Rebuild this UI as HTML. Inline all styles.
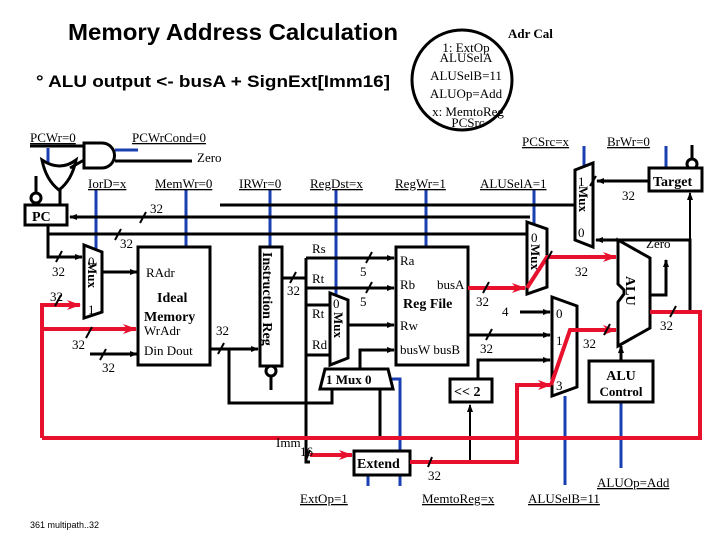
<!DOCTYPE html>
<html><head><style>
body{margin:0;background:#fff}
svg{display:block}
.t{font-family:"Liberation Serif",serif;font-size:13px}
</style></head><body>
<svg width="720" height="540" viewBox="0 0 720 540" xmlns="http://www.w3.org/2000/svg">
<defs>
<marker id="a" markerWidth="8" markerHeight="8" refX="7" refY="4" orient="auto" markerUnits="userSpaceOnUse"><path d="M0,1 L8,4 L0,7z" fill="#000"/></marker>
<marker id="r" markerWidth="14" markerHeight="12" refX="13" refY="6" orient="auto" markerUnits="userSpaceOnUse"><path d="M0,1 L14,6 L0,11 L4,6z" fill="#e8112d"/></marker>
</defs>
<g font-family="Liberation Sans,sans-serif" font-weight="bold">
<text x="68" y="40" font-size="23" textLength="330" lengthAdjust="spacingAndGlyphs">Memory Address Calculation</text>
<text x="36" y="87" font-size="17" textLength="354" lengthAdjust="spacingAndGlyphs">°  ALU output  &lt;-  busA + SignExt[Imm16]</text>
</g>
<text x="30" y="528" font-family="Liberation Sans,sans-serif" font-size="9">361  multipath..32</text>
<circle cx="462" cy="80" r="50" fill="none" stroke="#000" stroke-width="3"/>
<g class="t" text-anchor="middle" font-size="13">
<text x="466" y="52">1: ExtOp</text><text x="466" y="62">ALUSelA</text>
<text x="466" y="80">ALUSelB=11</text><text x="466" y="98">ALUOp=Add</text>
<text x="468" y="116">x: MemtoReg</text><text x="468" y="127">PCSrc</text>
</g>
<text x="508" y="38" class="t" font-weight="bold" font-size="14">Adr Cal</text>

<g stroke="#1a3fb0" stroke-width="3" fill="none">
<path d="M48 148V168"/><path d="M115 150H138"/>
<path d="M96 190V250"/><path d="M186 190V247"/><path d="M270 190V247"/>
<path d="M336 190V295"/><path d="M426 190V247"/><path d="M534 190V225"/>
<path d="M584 146V170"/><path d="M666 146V170"/>
<path d="M392 379H400V486"/><path d="M368 475V486"/><path d="M565 396V485"/>
<path d="M621 402V468"/>
</g>
<g class="t" font-size="13">
<text x="30" y="142" text-decoration="underline">PCWr=0</text>
<text x="132" y="142" text-decoration="underline">PCWrCond=0</text>
<text x="197" y="162">Zero</text>
<text x="88" y="188" text-decoration="underline">IorD=x</text>
<text x="155" y="188" text-decoration="underline">MemWr=0</text>
<text x="239" y="188" text-decoration="underline">IRWr=0</text>
<text x="310" y="188" text-decoration="underline">RegDst=x</text>
<text x="395" y="188" text-decoration="underline">RegWr=1</text>
<text x="480" y="188" text-decoration="underline">ALUSelA=1</text>
<text x="522" y="146" text-decoration="underline">PCSrc=x</text>
<text x="607" y="146" text-decoration="underline">BrWr=0</text>
<text x="300" y="503" text-decoration="underline">ExtOp=1</text>
<text x="422" y="503" text-decoration="underline">MemtoReg=x</text>
<text x="528" y="503" text-decoration="underline">ALUSelB=11</text>
<text x="597" y="487" text-decoration="underline">ALUOp=Add</text>
</g>
<g stroke="#000" stroke-width="3" fill="none">
<path d="M30 146H84"/>
<path d="M115 161H192"/>
<path d="M60 190V205"/><path d="M36 176V192"/>
<path d="M530 217H70" marker-end="url(#a)"/>
<path d="M48 225V234H526"/>
<path d="M48 234V257H82" marker-end="url(#a)"/>
<path d="M102 272H137" marker-end="url(#a)"/>
<path d="M90 354H137" marker-end="url(#a)"/>
<path d="M210 349H258" marker-end="url(#a)"/>
<path d="M229 349V403H332V390"/>
<path d="M282 278H306"/>
<path d="M306 258V462H310"/>
<path d="M306 258H394" marker-end="url(#a)"/>
<path d="M306 288H394" marker-end="url(#a)"/>
<path d="M306 305H330"/><path d="M306 355H330"/>
<path d="M348 325H394" marker-end="url(#a)"/>
<path d="M360 370V350H394" marker-end="url(#a)"/>
<path d="M380 390V436"/>
<path d="M468 335H550" marker-end="url(#a)"/>
<path d="M478 379V360H550" marker-end="url(#a)"/>
<path d="M520 312H550" marker-end="url(#a)"/>
<path d="M575 205H220"/>
<path d="M690 312V240H596" marker-end="url(#a)"/>
<path d="M690 240V193" marker-end="url(#a)" stroke-width="2"/>
<path d="M648 181H597" marker-end="url(#a)"/>
<path d="M650 295H666V260" marker-end="url(#a)"/>
<path d="M621 361V346" marker-end="url(#a)"/>
<path d="M470 462V405" marker-end="url(#a)" stroke-width="2"/>
<path d="M692 145V160"/>
<path d="M271 377V390"/>
</g>
<g stroke="#000" stroke-width="3" fill="#fff">
<circle cx="36" cy="198" r="5"/><circle cx="692" cy="164" r="5"/><circle cx="271" cy="371" r="5"/>
</g>
<path d="M84 143H102A12 12 0 0 1 102 168H84Z" fill="#fff" stroke="#000" stroke-width="3"/>
<path d="M42 160Q60 172 76 160Q72 180 59 190Q46 180 42 160Z" fill="#fff" stroke="#000" stroke-width="3"/>
<path d="M60 190V205M70 168L84 160" stroke="#000" stroke-width="3"/>
<g fill="#fff" stroke="#000" stroke-width="3">
<rect x="25" y="205" width="42" height="20"/>
<rect x="138" y="247" width="72" height="118"/>
<rect x="260" y="247" width="22" height="119"/>
<rect x="396" y="247" width="72" height="118"/>
<rect x="649" y="168" width="53" height="23"/>
<rect x="589" y="361" width="64" height="41"/>
<rect x="450" y="379" width="42" height="23"/>
<rect x="354" y="451" width="56" height="24"/>
<path d="M84 245L102 252V312L84 318Z"/>
<path d="M330 293L348 300V358L330 365Z"/>
<path d="M527 222L547 229V287L527 294Z"/>
<path d="M575 170L593 163V247L575 240Z"/>
<path d="M552 297L577 306V387L552 396Z"/>
<path d="M325 369H388L393 389H320Z"/>
<path d="M618 240L650 258V328L618 346V302L624 294V290L618 284Z"/>
</g>
<g stroke="#e8112d" stroke-width="4" fill="none">
<path d="M42 438V305H80" marker-end="url(#r)"/>
<path d="M42 329H136" marker-end="url(#r)"/>
<path d="M42 438H700V312H650"/>
<path d="M310 455H352" marker-end="url(#r)"/>
<path d="M410 462H517V385H551" marker-end="url(#r)"/>
<path d="M551 385L570 330H616" marker-end="url(#r)"/>
<path d="M468 288H525" marker-end="url(#r)"/>
<path d="M527 288L547 257H616" marker-end="url(#r)"/>
</g>
<g class="t">
<text x="32" y="221" font-weight="bold" font-size="14">PC</text>
<text x="146" y="277">RAdr</text>
<text x="157" y="302" font-weight="bold" font-size="14">Ideal</text>
<text x="144" y="321" font-weight="bold" font-size="14">Memory</text>
<text x="144" y="335">WrAdr</text>
<text x="144" y="355">Din   Dout</text>
<text x="400" y="265">Ra</text>
<text x="400" y="289">Rb</text><text x="437" y="289">busA</text>
<text x="403" y="308" font-weight="bold" font-size="14">Reg File</text>
<text x="400" y="330">Rw</text>
<text x="400" y="354">busW busB</text>
<text x="653" y="186" font-weight="bold" font-size="14">Target</text>
<text x="621" y="380" font-weight="bold" font-size="14" text-anchor="middle">ALU</text>
<text x="621" y="396" font-weight="bold" font-size="13" text-anchor="middle">Control</text>
<text x="454" y="396" font-weight="bold" font-size="14">&lt;&lt; 2</text>
<text x="357" y="468" font-weight="bold" font-size="14">Extend</text>
<text x="326" y="384" font-weight="bold" font-size="13">1  Mux 0</text>
<text x="312" y="253">Rs</text><text x="312" y="283">Rt</text><text x="312" y="318">Rt</text><text x="312" y="349">Rd</text>
<text x="646" y="248">Zero</text>
<text x="556" y="318">0</text><text x="556" y="345">1</text><text x="556" y="390">3</text>
<text x="502" y="316">4</text>
<text x="276" y="447">Imm</text><text x="300" y="456">16</text>
<text x="428" y="480">32</text>
<text x="52" y="276">32</text><text x="50" y="301">32</text><text x="72" y="349">32</text><text x="102" y="372">32</text>
<text x="150" y="213">32</text><text x="120" y="248">32</text><text x="287" y="295">32</text><text x="216" y="335">32</text>
<text x="360" y="276">5</text><text x="360" y="306">5</text><text x="476" y="306">32</text><text x="480" y="353">32</text>
<text x="575" y="276">32</text><text x="583" y="348">32</text><text x="660" y="330">32</text><text x="622" y="200">32</text>
<text x="88" y="266">0</text><text x="88" y="314">1</text>
<text x="578" y="186">1</text><text x="578" y="237">0</text>
<text x="531" y="242">0</text>
<text x="333" y="308">0</text>
<text transform="translate(263,252) rotate(90)" font-weight="bold" font-size="14">Instruction Reg</text>
<text transform="translate(88,262) rotate(90)" font-weight="bold">Mux</text>
<text transform="translate(579,186) rotate(90)" font-weight="bold">Mux</text>
<text transform="translate(531,244) rotate(90)" font-weight="bold">Mux</text>
<text transform="translate(334,312) rotate(90)" font-weight="bold">Mux</text>
<text transform="translate(626,276) rotate(90)" font-weight="bold" font-size="14">ALU</text>
</g>
<g stroke="#000" stroke-width="2">
<path d="M140 223L146 212M115 240L121 229M56 262L62 251M55 306L61 295M86 338L92 327M100 360L106 349M218 354L224 343M290 283L296 272M366 263L372 252M366 293L372 282M483 293L489 282M486 340L492 329M590 186L596 176M604 335L610 324M670 317L676 306M546 262L552 251M306 460L310 450M428 467L432 457"/>
</g>
</svg>
</body></html>
